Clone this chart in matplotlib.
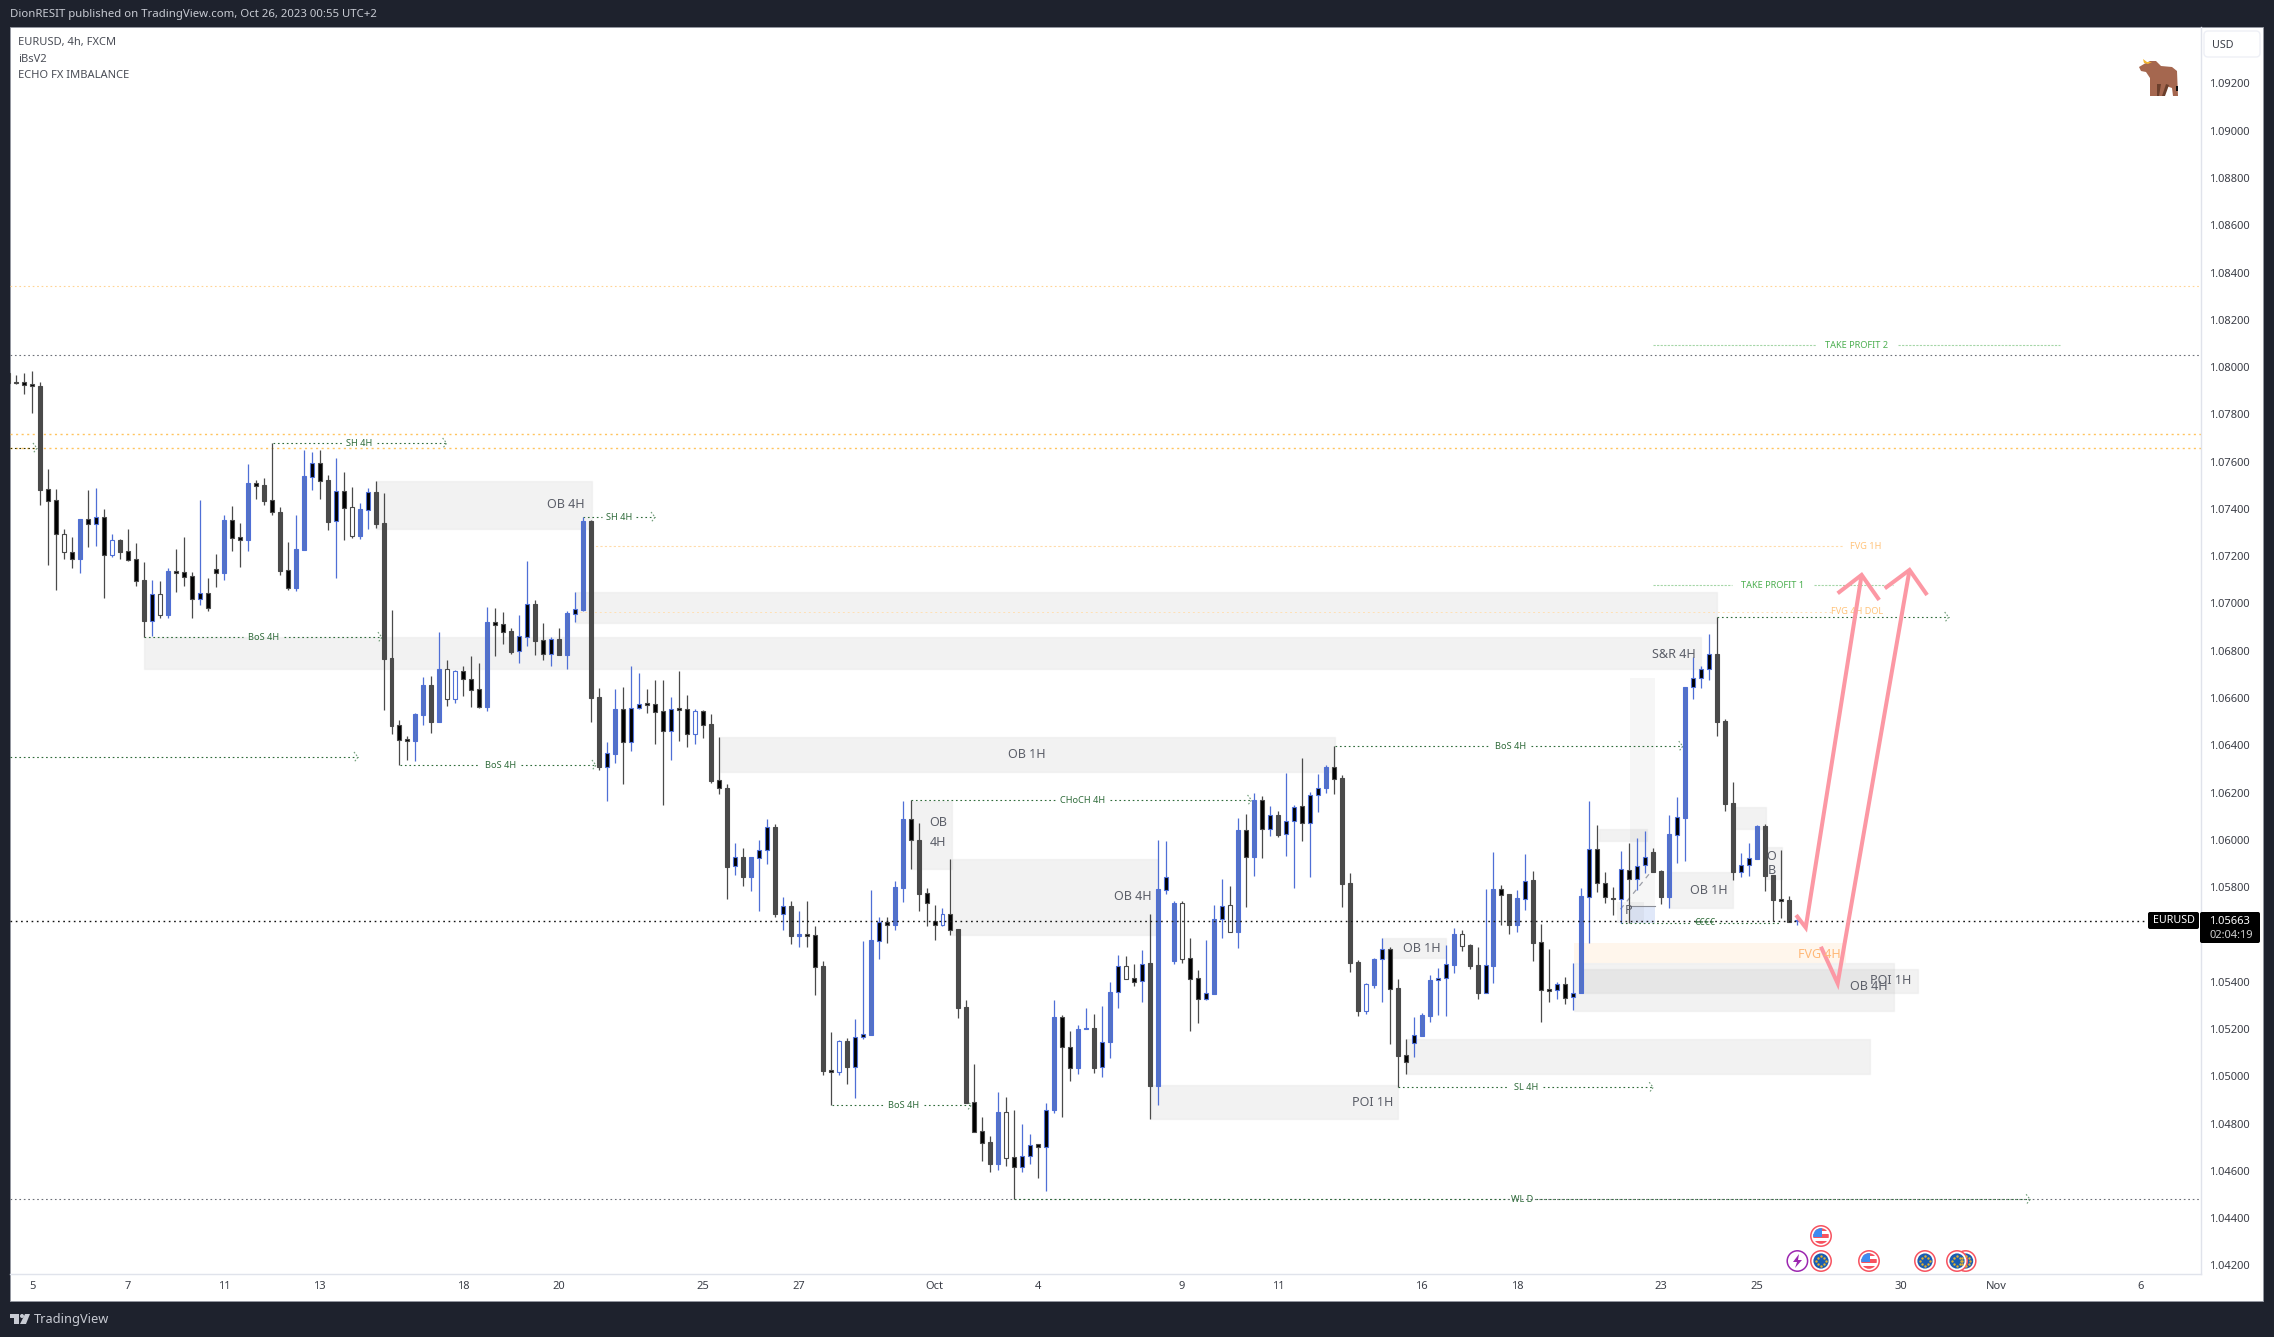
#!/usr/bin/env python3
# -*- coding: utf-8 -*-
# =============================================================================
# EURUSD 4h chart, TradingView look
# =============================================================================
import numpy as np
import matplotlib
matplotlib.use('Agg')
import matplotlib.pyplot as plt
from matplotlib.patches import Rectangle, Circle, Polygon, FancyBboxPatch
from matplotlib.transforms import ScaledTranslation

plt.rcParams['font.family'] = ['Noto Sans', 'DejaVu Sans']

# candles, prices in 1e-5 units
highs = [107990,
    107972,107980,107989,107942,107574,107490,107321,107287,107363,107486,
    107494,107405,107299,107278,107321,107261,107181,107105,107101,107156,
    107236,107287,107139,107443,107113,107215,107380,107418,107346,107595,
    107528,107536,107684,107414,107266,107380,107655,107646,107655,107549,
    107621,107562,107498,107430,107494,107524,107473,106978,106513,106445,
    106542,106695,106699,106885,106766,106724,106741,106783,106754,106991,
    106986,106969,106902,106957,107185,107020,106923,106864,106902,106974,
    107054,107371,107357,106648,106420,106644,106652,106741,106712,106644,
    106681,106681,106608,106720,106618,106560,106555,106537,106441,106242,
    105991,105970,105931,106004,106093,106072,105763,105745,105705,105747,
    105642,105493,105193,105159,105167,105248,105577,105794,105679,105677,
    105831,106169,106174,106077,105802,105729,105718,105925,105630,105327,
    105057,104832,104751,104937,104916,104863,104803,104761,104719,104890,
    105327,105264,105198,105224,105293,105269,105303,105404,105520,105514,
    105480,105540,105692,106004,106001,105745,105745,105590,105455,105581,
    105729,105839,105810,106097,106114,106202,106190,106148,106126,106288,
    106152,106351,106207,106284,106322,106401,106279,105865,105497,105398,
    105505,105590,105550,105416,105163,105256,105271,105433,105463,105560,
    105632,105624,105564,105552,105797,105954,105814,105776,105793,105945,
    105873,105649,105543,105404,105425,105484,105801,106169,106068,105869,
    105806,105958,105992,106013,106042,105969,105878,106110,106186,106652,
    106779,106739,106876,106948,106516,106250,105950,105992,106067,106072,
    105857,105962,105768,105686]
body_tops = [107979,
    107942,107941,107934,107925,107488,107442,107298,107222,107363,107361,
    107370,107370,107273,107273,107226,107192,107105,107044,107044,107143,
    107143,107137,107122,107048,107048,107150,107359,107357,107285,107514,
    107514,107507,107442,107392,107146,107236,107545,107598,107598,107528,
    107480,107480,107412,107405,107476,107476,107346,106775,106490,106432,
    106538,106661,106661,106728,106727,106718,106718,106687,106642,106927,
    106926,106917,106889,106867,107002,107002,106850,106854,106855,106965,
    106981,107354,107354,106610,106372,106559,106558,106561,106582,106584,
    106579,106550,106560,106563,106558,106550,106550,106495,106257,106223,
    105931,105931,105931,105961,106058,106059,105724,105726,105606,105606,
    105601,105472,105030,105153,105154,105170,105182,105580,105656,105656,
    105807,106093,106093,106004,105781,105664,105690,105690,105629,105298,
    104895,104772,104725,104856,104856,104662,104667,104716,104717,104864,
    105256,105256,105127,105203,105208,105208,105148,105362,105470,105470,
    105420,105481,105483,105797,105847,105737,105737,105504,105419,105356,
    105669,105727,105728,106047,106045,106174,106174,106109,106109,106086,
    106145,106147,106196,106226,106313,106312,106267,105821,105488,105394,
    105501,105542,105542,105378,105094,105178,105263,105411,105419,105478,
    105605,105605,105560,105474,105474,105797,105797,105775,105759,105832,
    105834,105572,105373,105394,105394,105359,105766,105965,105965,105824,
    105760,105880,105879,105896,105931,105952,105872,106029,106100,106652,
    106688,106727,106790,106791,106507,106160,105897,105927,106062,106064,
    105857,105754,105751,105665]
body_bottoms = [107939,
    107938,107931,107923,107487,107440,107297,107222,107195,107195,107343,
    107343,107212,107212,107223,107191,107102,106931,106933,106958,106958,
    107136,107119,107026,107026,106984,107136,107136,107284,107275,107274,
    107504,107439,107390,107143,107071,107071,107232,107542,107525,107350,
    107352,107411,107292,107292,107402,107342,106771,106487,106429,106425,
    106425,106534,106504,106504,106599,106599,106687,106641,106569,106568,
    106916,106886,106800,106802,106865,106847,106793,106793,106788,106788,
    106962,106978,106606,106314,106314,106369,106420,106420,106561,106576,
    106548,106464,106464,106555,106454,106454,106493,106254,106223,105891,
    105893,105846,105846,105930,105961,105692,105693,105600,105598,105600,
    105467,105028,105023,105025,105044,105046,105170,105180,105578,105643,
    105643,105802,106003,105776,105740,105643,105643,105625,105294,104892,
    104771,104724,104636,104636,104660,104623,104623,104667,104704,104704,
    104863,105127,105038,105038,105203,105041,105043,105148,105360,105418,
    105405,105407,104965,104965,105795,105494,105502,105418,105333,105333,
    105353,105669,105617,105617,105934,105934,106052,106052,106026,106028,
    106086,106075,106075,106196,106226,106264,105820,105486,105281,105282,
    105391,105500,105376,105091,105067,105144,105175,105260,105411,105419,
    105477,105557,105471,105357,105359,105471,105773,105646,105646,105756,
    105570,105371,105367,105369,105337,105339,105359,105765,105824,105762,
    105756,105756,105838,105838,105897,105869,105765,105765,106027,106099,
    106650,106688,106727,106504,106157,105869,105871,105897,105926,105854,
    105751,105748,105659,105662]
lows = [107935,
    107934,107892,107811,107422,107168,107062,107194,107156,107134,107244,
    107249,107029,107202,107194,107185,107079,106862,106868,106944,106944,
    107054,107079,106944,106999,106974,107075,107105,107227,107160,107227,
    107447,107422,107380,107126,107062,107058,107232,107486,107447,107316,
    107113,107274,107282,107278,107321,107325,106555,106453,106321,106343,
    106339,106491,106458,106504,106572,106585,106614,106568,106563,106551,
    106783,106834,106792,106754,106826,106788,106766,106741,106788,106728,
    106927,106974,106504,106301,106170,106329,106242,106382,106560,106540,
    106411,106153,106343,106424,106398,106411,106437,106247,106200,105755,
    105857,105810,105789,105705,105901,105680,105624,105566,105554,105553,
    105349,105010,104882,105012,104973,104913,105161,105180,105501,105569,
    105625,105742,105884,105705,105642,105582,105642,105603,105251,104892,
    104771,104646,104601,104609,104625,104484,104601,104636,104575,104520,
    104850,104834,104986,105015,105203,105018,105002,105083,105293,105415,
    105387,105319,104824,104884,105776,105480,105485,105198,105232,105328,
    105353,105591,105614,105549,105722,105854,105930,106023,106019,105938,
    105803,106002,105849,106123,106205,106199,105722,105447,105261,105270,
    105378,105319,105141,104958,105015,105087,105175,105235,105264,105260,
    105442,105535,105460,105332,105357,105399,105645,105607,105615,105708,
    105493,105235,105319,105332,105311,105285,105357,105569,105784,105738,
    105687,105653,105652,105793,105865,105869,105734,105717,105907,105916,
    106601,106648,106681,106445,106127,105835,105848,105852,105924,105789,
    105663,105673,105659,105645]
# candle look: G grey, K black, B blue, N black/blue edge, W white/blue edge, H white/dark edge
kinds = ('K' 'KKKGKKHKBK' 'NKWGKKGNHB' 'KKKNKKBKKB' 'KGKGKBBNKG' 'NKHBNGGGKK'
         'BBGBHWKKKB' 'KKGNNGKNGB' 'NBGGNBKNNK' 'KKNKKWKGKG' 'NGBNNGNGBK'
         'KGKWGNNBNK' 'BBKGKKWKGG' 'KKGBHKNNKN' 'BKKBBGNBNH' 'KNGBNBHKKN'
         'BNHBKBKNGN' 'NKNNBKGGGW' 'BNKGKNBBNN' 'BHGGNBKGBN' 'GKKNKNBNKK'
         'KNKNNGGBNB' 'NNNGGGNNBG' 'GKGN')

# axes
price_ticks = [1.042 + 0.002 * i for i in range(26)]
time_tick_bars = [3, 15, 27, 39, 57, 69, 87, 99, 116, 129, 147, 159, 177, 189, 207, 219, 237, 249, 267]
time_tick_labels = ['5', '7', '11', '13', '18', '20', '25', '27', 'Oct', '4', '9', '11', '16', '18', '23', '25', '30',
                    'Nov', '6']
last_price = 1.05663

# zones: left bar, right bar, top, bottom
zone_left = [46.1, 17.0, 71.0, 89.1, 113.1, 118.2, 143.1, 172.1, 175.1, 196.1, 197.1, 199.2, 208.1, 216.0, 220.0]
zone_right = [73.1, 212.0, 214.0, 166.1, 118.2, 144.0, 174.1, 180.1, 233.1, 236.1, 239.1, 205.2, 216.0, 220.1, 222.1]
zone_top = [107524, 106864, 107053, 106440, 106171, 105923, 104968, 105590, 105161, 105483, 105457, 106051, 105868,
            106143, 105974]
zone_bottom = [107322, 106726, 106924, 106293, 105884, 105601, 104823, 105507, 105013, 105283, 105356, 106002, 105716,
               106053, 105838]

# labelled structure lines: start bar, end bar, price, label, label bar
struct_start = [33.1, 72.0, 17.0, 49.1, 103.1, 113.1, 166.1, 174.1, 126.0, 214.0, 202.0]
struct_end = [54.9, 81.0, 46.8, 73.6, 120.6, 155.7, 209.7, 206.0, 253.2, 243.0, 222.0]
struct_price = [107683, 107370, 106862, 106321, 104882, 106173, 106401, 104958, 104484, 106947, 105655]
struct_label = ['SH 4H', 'SH 4H', 'BoS 4H', 'BoS 4H', 'BoS 4H', 'CHoCH 4H', 'BoS 4H', 'SL 4H', 'WL D', '', '€€€€']
struct_label_bar = [44.0, 76.5, 32.0, 61.6, 112.1, 134.6, 188.1, 190.1, 189.6, 0, 212.5]

# full width levels
grey_levels = [108055, 104484]
orange_levels = [107722, 107662]
pale_orange_level = 108349

# pink path, bar / price
arrow_up_bars = [223.9, 225.1, 232.1]
arrow_up_prices = [105687, 105634, 107126]
head_up_bars = [229.1, 232.1, 234.3]
head_up_prices = [107048, 107126, 107020]
arrow_down_bars = [227.0, 229.1, 238.1]
arrow_down_prices = [105553, 105398, 107147]
head_down_bars = [235.0, 238.1, 240.3]
head_down_prices = [107069, 107147, 107041]

DARK = '#4a4a4a'
BLUE = '#4f6fd6'
BLUE_FILL = '#5472c6'
PANEL = '#1e222d'
GREEN = '#2f6b3a'
ORANGE = '#ffc37a'
DOTS = (0, (1.5, 2.5))

BODY_COLOR = {'G': DARK, 'K': '#000000', 'B': BLUE_FILL, 'N': '#000000', 'W': '#ffffff', 'H': '#ffffff'}
EDGE_COLOR = {'G': DARK, 'K': DARK, 'B': BLUE, 'N': BLUE, 'W': BLUE, 'H': DARK}
WICK_COLOR = {'G': DARK, 'K': DARK, 'B': BLUE, 'N': BLUE, 'W': BLUE, 'H': DARK}


def pts(values):
    return np.array(values) / 1e5


fig = plt.figure(figsize=(22.74, 13.37), dpi=100, facecolor=PANEL)
W, H = 2274.0, 1337.0

# whole figure in pixels, for the frame and the small things around the chart
back = fig.add_axes([0, 0, 1, 1], zorder=0)
back.set_xlim(0, W)
back.set_ylim(H, 0)
back.axis('off')
back.add_patch(Rectangle((10, 27), 2253, 1274, facecolor='white', edgecolor='#9598a1', linewidth=0.7))

ax = fig.add_axes([10 / W, (H - 1274) / H, 2191 / W, 1247 / H], zorder=1)
ax.patch.set_alpha(0)
ax.set_xlim(0.225, 274.6)
ax.set_ylim(1.041687, 1.094437)
for side in ['top', 'left']:
    ax.spines[side].set_visible(False)
for side in ['right', 'bottom']:
    ax.spines[side].set_color('#e0e3eb')
    ax.spines[side].set_linewidth(1.0)
ax.yaxis.tick_right()
ax.set_yticks(price_ticks)
ax.set_yticklabels(['%.5f' % p for p in price_ticks])
ax.set_xticks(time_tick_bars)
ax.set_xticklabels(time_tick_labels)
ax.tick_params(axis='y', length=0, pad=5.8, labelsize=8, labelcolor='#3b3e47')
ax.tick_params(axis='x', length=0, pad=5, labelsize=8, labelcolor='#3b3e47')
up_a_bit = ScaledTranslation(0, 1.2 / 100, fig.dpi_scale_trans)
for lab in ax.get_yticklabels():
    lab.set_transform(lab.get_transform() + up_a_bit)

# zones
for i in range(len(zone_left)):
    ax.add_patch(Rectangle((zone_left[i], zone_bottom[i] / 1e5), zone_right[i] - zone_left[i],
                           (zone_top[i] - zone_bottom[i]) / 1e5, facecolor=(0.47, 0.47, 0.47, 0.09),
                           edgecolor=(0.47, 0.47, 0.47, 0.05), linewidth=1, zorder=1))
ax.add_patch(Rectangle((203.1, 1.05652), 3.1, 0.01038, facecolor=(0.5, 0.5, 0.5, 0.07), edgecolor='none', zorder=1))
ax.add_patch(Rectangle((196.1, 1.05483), 34.0, 0.00087, facecolor='#fff3e6', edgecolor='none', alpha=0.75, zorder=1))
ax.add_patch(Rectangle((203.1, 1.05652), 3.1, 0.00075, facecolor='#dbe5fb', edgecolor='none', alpha=0.8, zorder=1))
ax.add_patch(Rectangle((201.5, 1.05652), 3.3, 0.00091, facecolor=(0.5, 0.5, 0.5, 0.08), edgecolor='none', zorder=1))
ax.plot([203.1, 206.2], [1.05727, 1.05727], color='#8a8d96', lw=0.8, zorder=2)
ax.plot([201.9, 206.2], [1.05712, 1.05890], color='#9a9da6', lw=0.9, ls=(0, (4, 4)), zorder=2)

# levels
for lv in grey_levels:
    ax.plot([0.225, 274.6], [lv / 1e5, lv / 1e5], color='#6d7078', lw=0.8, ls=DOTS, zorder=2)
for lv in orange_levels:
    ax.plot([0.225, 274.6], [lv / 1e5, lv / 1e5], color='#ffc45e', lw=1.0, ls=DOTS, zorder=2)
ax.plot([0.225, 274.6], [pale_orange_level / 1e5] * 2, color='#ffd595', lw=0.8, ls=DOTS, zorder=2)
ax.plot([71, 228.5], [1.06971, 1.06971], color='#ffe0b5', lw=0.7, ls=(0, (2, 3)), zorder=2)
ax.plot([73, 229.8], [1.07247, 1.07247], color='#ffdcab', lw=0.8, ls=(0, (2, 2)), zorder=2)
ax.plot([0.225, 3.6], [1.07662, 1.07662], color='#333300', lw=0.8, ls=DOTS, zorder=2)
ax.plot([0.225, 43.8], [1.06355, 1.06355], color=GREEN, lw=0.8, ls=DOTS, zorder=2)
ax.plot([0.225, 274.6], [last_price, last_price], color='#111111', lw=1.0, ls=(0, (1.2, 2.6)), zorder=6)
ax.text(231.5, 1.06971, 'FVG 4H DOL', color=ORANGE, fontsize=6.6, ha='center', va='center', zorder=7)
ax.text(232.6, 1.07247, 'FVG 1H', color=ORANGE, fontsize=6.6, ha='center', va='center', zorder=7)

# take profit lines
for lv, text, mid, half, left, right in [(1.08098, 'TAKE PROFIT 2', 231.5, 4.6, 206.0, 257.0),
                                         (1.07082, 'TAKE PROFIT 1', 221.0, 4.6, 206.0, 236.0)]:
    ax.plot([left, mid - half - 0.5], [lv, lv], color='#a5d6a7', lw=0.8, ls=(0, (2, 1.2)), zorder=2)
    ax.plot([mid + half + 0.5, right], [lv, lv], color='#a5d6a7', lw=0.8, ls=(0, (2, 1.2)), zorder=2)
    ax.text(mid, lv, text, color='#4caf50', fontsize=6.6, ha='center', va='center', zorder=7)


def chevron(bar, price):
    ax.plot([bar - 0.5, bar, bar - 0.5], [price + 0.00022, price, price - 0.00022], color='#6f9c78', lw=0.8,
            ls=(0, (1.5, 1.5)), zorder=3)


# structure lines, gap for the label
for i in range(len(struct_start)):
    p = struct_price[i] / 1e5
    if struct_label[i]:
        gap = 0.41 * len(struct_label[i]) + 0.1
        ax.plot([struct_start[i], struct_label_bar[i] - gap], [p, p], color=GREEN, lw=0.8, ls=DOTS, zorder=3)
        ax.plot([struct_label_bar[i] + gap, struct_end[i]], [p, p], color=GREEN, lw=0.8, ls=DOTS, zorder=3)
        ax.text(struct_label_bar[i], p, struct_label[i], color=GREEN, fontsize=6.6, ha='center', va='center', zorder=7)
    else:
        ax.plot([struct_start[i], struct_end[i]], [p, p], color=GREEN, lw=0.8, ls=DOTS, zorder=3)
    if struct_label[i] != '€€€€':
        chevron(struct_end[i], p)
chevron(3.6, 1.07662)
chevron(43.8, 1.06355)

# candles
bars = np.arange(len(highs))
ax.vlines(bars, pts(lows), pts(highs), colors=[WICK_COLOR[k] for k in kinds], linewidth=0.9, zorder=4)
tops = pts(body_tops)
bottoms = pts(body_bottoms)
ax.bar(bars, tops - bottoms, bottom=bottoms, width=0.5, color=[BODY_COLOR[k] for k in kinds],
       edgecolor=[EDGE_COLOR[k] for k in kinds], linewidth=0.8, zorder=5)

# pink drawing
for xs, ys in [(arrow_up_bars, arrow_up_prices), (head_up_bars, head_up_prices),
               (arrow_down_bars, arrow_down_prices), (head_down_bars, head_down_prices)]:
    ax.plot(xs, pts(ys), color='#fc98a4', lw=2.9, solid_joinstyle='miter', solid_capstyle='butt', zorder=8)

# overlay for text in pixel positions
ov = fig.add_axes([0, 0, 1, 1], zorder=2)
ov.patch.set_alpha(0)
ov.set_xlim(0, W)
ov.set_ylim(H, 0)
ov.axis('off')

ov.text(10, 15, 'DionRESIT published on TradingView.com, Oct 26, 2023 00:55 UTC+2', color='#c8cbd3', fontsize=8.2,
        ha='left', va='center')
for y, text in [(43, 'EURUSD, 4h, FXCM'), (60, 'iBsV2'), (76, 'ECHO FX IMBALANCE')]:
    ov.text(18, y, text, color='#4a4d56', fontsize=8, ha='left', va='center')

# zone labels
GREY_TEXT = '#5b5e68'
for x, y, text, ha in [(585, 505, 'OB 4H', 'right'), (1027, 755, 'OB 1H', 'center'), (1152, 897, 'OB 4H', 'right'),
                       (1393, 1102, 'POI 1H', 'right'), (1441, 948, 'OB 1H', 'right'),
                       (1696, 654, 'S&R 4H', 'right'), (1728, 890, 'OB 1H', 'right'),
                       (1888, 987, 'OB 4H', 'right'), (1911, 981, 'POI 1H', 'right'),
                       (938, 823, 'OB', 'center'), (938, 842, '4H', 'center'),
                       (1771, 857, 'O', 'center'), (1772, 871, 'B', 'center'), (1629, 911, 'P', 'center')]:
    ov.text(x, y, text, color=GREY_TEXT, fontsize=9, ha=ha, va='center')
ov.text(1841, 954, 'FVG 4H', color='#ffb877', fontsize=9, ha='right', va='center')

# USD box and price badges
ov.add_patch(FancyBboxPatch((2206, 33), 52, 22, boxstyle='round,pad=2,rounding_size=4', facecolor='white',
                            edgecolor='#eef0f6', linewidth=1))
ov.text(2223, 45.5, 'USD', color='#3b3e47', fontsize=7.7, ha='center', va='center')
ov.add_patch(FancyBboxPatch((2149, 913), 49, 15, boxstyle='round,pad=1,rounding_size=2', facecolor='#000000',
                            edgecolor='none'))
ov.text(2173.5, 920.7, 'EURUSD', color='white', fontsize=7.7, ha='center', va='center')
ov.add_patch(FancyBboxPatch((2201, 913), 58, 29, boxstyle='round,pad=1,rounding_size=2', facecolor='#000000',
                            edgecolor='none'))
ov.text(2229, 921, '1.05663', color='white', fontsize=8, ha='center', va='center')
ov.text(2231, 935, '02:04:19', color='#cfcfcf', fontsize=8, ha='center', va='center')

# bull
ov.add_patch(Polygon([(2139, 67), (2144, 64), (2150, 61), (2156, 61), (2161, 66), (2172, 67), (2177, 71), (2178, 96),
                      (2173, 96), (2172, 88), (2166, 86), (2163, 96), (2150, 96), (2150, 78), (2146, 72), (2141, 71)],
                     facecolor='#a5674f', edgecolor='none'))
ov.add_patch(Polygon([(2143, 59), (2147, 62), (2152, 62), (2148, 64), (2144, 63)], facecolor='#f2b632',
                     edgecolor='none'))
ov.add_patch(Polygon([(2157, 84), (2161, 84), (2159, 96), (2157, 96)], facecolor='#6b3f2c', edgecolor='none'))
ov.add_patch(Polygon([(2166, 84), (2169, 85), (2165, 96), (2162, 96)], facecolor='#6b3f2c', edgecolor='none'))
ov.add_patch(Polygon([(2176, 86), (2178, 86), (2178, 91), (2176, 91)], facecolor='#111111', edgecolor='none'))


# calendar events
def event_ring(x, y, color):
    ov.add_patch(Circle((x, y), 10.2, facecolor='white', edgecolor=color, linewidth=1.1))


def eu_icon(x, y):
    event_ring(x, y, '#f7525f')
    ov.add_patch(Circle((x, y), 7.6, facecolor='#1a5cb0', edgecolor='none'))
    for a in np.arange(0, 360, 45):
        ov.plot(x + 4.8 * np.cos(np.radians(a)), y + 4.8 * np.sin(np.radians(a)), marker='s', ms=0.7, color='#e0b030')


def us_icon(x, y):
    event_ring(x, y, '#f7525f')
    clip = Circle((x, y), 7.8, transform=ov.transData)
    for k, col in enumerate(['#f7525f', 'white', '#f7525f', 'white', '#f7525f']):
        r = Rectangle((x - 8, y - 8 + k * 3.2), 16, 3.2, facecolor=col, edgecolor='none')
        ov.add_patch(r)
        r.set_clip_path(clip)
    r = Rectangle((x - 8, y - 8), 8.5, 8.5, facecolor='#3d8bf0', edgecolor='none')
    ov.add_patch(r)
    r.set_clip_path(clip)


us_icon(1821, 1236)
eu_icon(1821, 1261)
us_icon(1869, 1261)
eu_icon(1925, 1261)
eu_icon(1965.6, 1261)
eu_icon(1957, 1261)
event_ring(1797.4, 1261, '#9c27b0')
ov.add_patch(Polygon([(1799, 1254), (1793, 1262), (1797, 1262), (1795, 1268), (1802, 1260), (1798, 1260)],
                     facecolor='#9c27b0', edgecolor='none'))

# TradingView logo
LOGO = '#c8cbd3'
ov.add_patch(Polygon([(10, 1314), (19, 1314), (19, 1324), (14, 1324), (14, 1318), (10, 1318)], facecolor=LOGO,
                     edgecolor='none'))
ov.add_patch(Circle((22, 1316), 2, facecolor=LOGO, edgecolor='none'))
ov.add_patch(Polygon([(25, 1314), (30, 1314), (26, 1324), (20, 1324)], facecolor=LOGO, edgecolor='none'))
ov.text(34, 1320, 'TradingView', color=LOGO, fontsize=9.2, ha='left', va='center')

fig.savefig('out.png', dpi=100, facecolor=PANEL)
